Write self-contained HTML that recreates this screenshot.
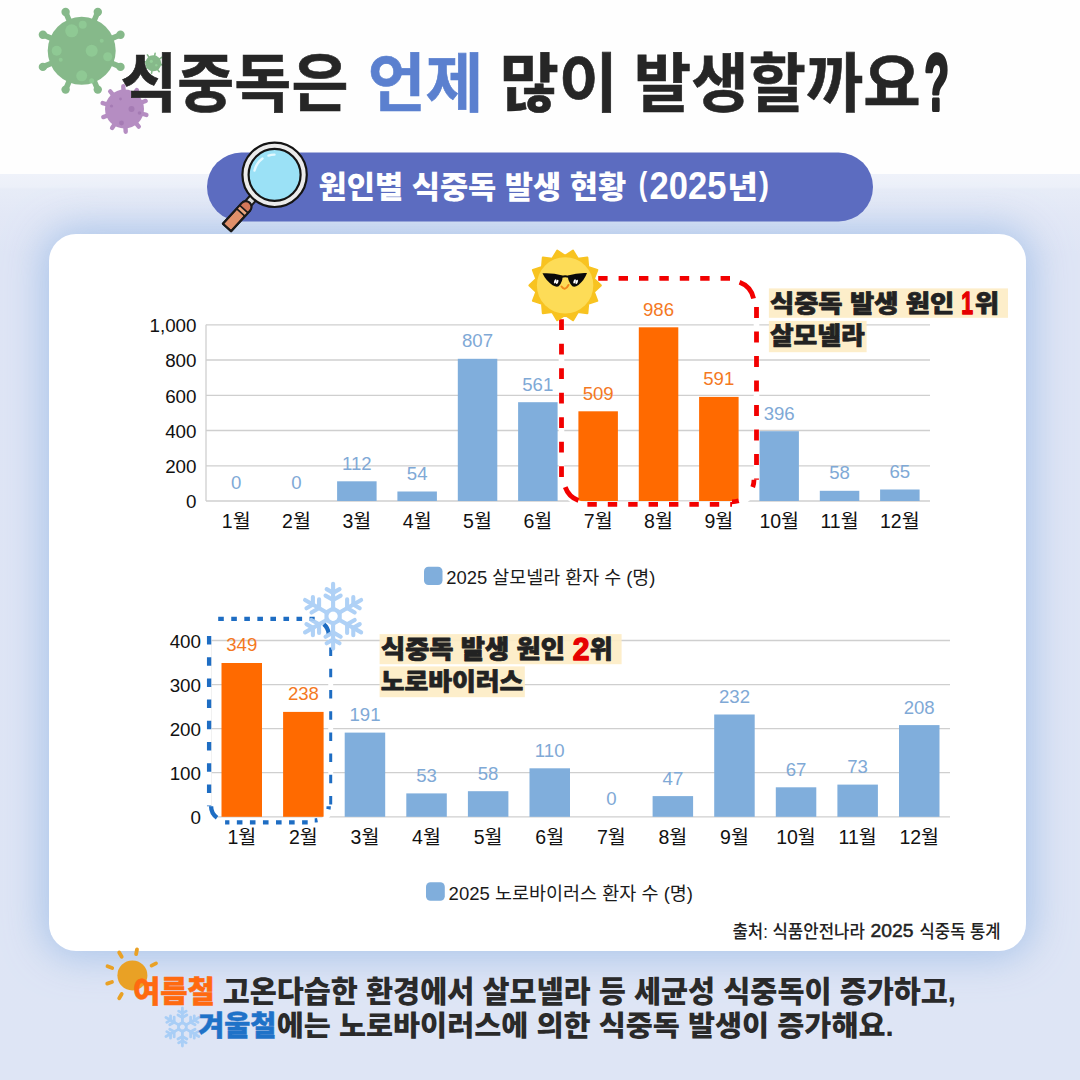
<!DOCTYPE html>
<html lang="ko"><head><meta charset="utf-8"><title>식중독은 언제 많이 발생할까요?</title>
<style>
html,body{margin:0;padding:0;background:#fefefe;}
body{width:1080px;height:1080px;overflow:hidden;position:relative;font-family:"Liberation Sans", "Noto Sans CJK KR", sans-serif;}
#bg{position:absolute;left:0;top:174px;width:1080px;height:906px;
 background:linear-gradient(180deg,#eff2fa 0px,#ecf0f9 13px,#e7ecf7 15px,#e3e8f6 40px,#dfe5f5 80px,#dee5f5 100%);}
#card{position:absolute;left:49px;top:234px;width:977px;height:717px;border-radius:27px;background:#fff;
 box-shadow:0 0 38px 6px rgba(152,186,230,0.75);}
svg{position:absolute;left:0;top:0;}
text{font-family:"Liberation Sans", "Noto Sans CJK KR", sans-serif;}
.hv{font-weight:900;}
.bd{font-weight:700;}
.md{font-weight:500;}
.rg{font-weight:400;}
</style></head><body>
<div id="bg"></div>
<div id="card"></div>
<svg width="1080" height="1080" viewBox="0 0 1080 1080">
<g fill="#86b98a" stroke="none"><line x1="111.3" y1="63.0" x2="120.5" y2="66.9" stroke="#86b98a" stroke-width="5.5" stroke-linecap="round"/><circle cx="120.5" cy="66.9" r="4.2"/><line x1="93.9" y1="80.4" x2="97.8" y2="89.6" stroke="#86b98a" stroke-width="5.5" stroke-linecap="round"/><circle cx="97.8" cy="89.6" r="4.2"/><line x1="69.5" y1="80.4" x2="65.6" y2="89.6" stroke="#86b98a" stroke-width="5.5" stroke-linecap="round"/><circle cx="65.6" cy="89.6" r="4.2"/><line x1="52.1" y1="63.0" x2="42.9" y2="66.9" stroke="#86b98a" stroke-width="5.5" stroke-linecap="round"/><circle cx="42.9" cy="66.9" r="4.2"/><line x1="52.1" y1="38.6" x2="42.9" y2="34.7" stroke="#86b98a" stroke-width="5.5" stroke-linecap="round"/><circle cx="42.9" cy="34.7" r="4.2"/><line x1="69.5" y1="21.2" x2="65.6" y2="12.0" stroke="#86b98a" stroke-width="5.5" stroke-linecap="round"/><circle cx="65.6" cy="12.0" r="4.2"/><line x1="93.9" y1="21.2" x2="97.8" y2="12.0" stroke="#86b98a" stroke-width="5.5" stroke-linecap="round"/><circle cx="97.8" cy="12.0" r="4.2"/><line x1="111.3" y1="38.6" x2="120.5" y2="34.7" stroke="#86b98a" stroke-width="5.5" stroke-linecap="round"/><circle cx="120.5" cy="34.7" r="4.2"/><circle cx="81.7" cy="50.8" r="34"/><circle cx="71.7" cy="30.8" r="6.5" fill="#8fc994"/><circle cx="82.7" cy="24.8" r="4" fill="#8fc994"/><circle cx="91.7" cy="50.8" r="6" fill="#8fc994"/><circle cx="56.7" cy="50.8" r="5" fill="#8fc994"/><circle cx="81.7" cy="75.8" r="5.5" fill="#8fc994"/><circle cx="107.7" cy="56.8" r="4.5" fill="#8fc994"/><circle cx="101.7" cy="40.8" r="2" fill="#8fc994"/><circle cx="60.7" cy="59.8" r="2" fill="#8fc994"/><circle cx="91.7" cy="80.8" r="2.5" fill="#8fc994"/></g>
<g fill="#86b98a" stroke="none"><line x1="159.2" y1="64.3" x2="163.3" y2="65.1" stroke="#86b98a" stroke-width="1.6" stroke-linecap="round"/><line x1="156.7" y1="68.2" x2="159.2" y2="71.7" stroke="#86b98a" stroke-width="1.6" stroke-linecap="round"/><line x1="152.3" y1="69.2" x2="151.5" y2="73.3" stroke="#86b98a" stroke-width="1.6" stroke-linecap="round"/><line x1="148.4" y1="66.7" x2="144.9" y2="69.2" stroke="#86b98a" stroke-width="1.6" stroke-linecap="round"/><line x1="147.4" y1="62.3" x2="143.3" y2="61.5" stroke="#86b98a" stroke-width="1.6" stroke-linecap="round"/><line x1="149.9" y1="58.4" x2="147.4" y2="54.9" stroke="#86b98a" stroke-width="1.6" stroke-linecap="round"/><line x1="154.3" y1="57.4" x2="155.1" y2="53.3" stroke="#86b98a" stroke-width="1.6" stroke-linecap="round"/><line x1="158.2" y1="59.9" x2="161.7" y2="57.4" stroke="#86b98a" stroke-width="1.6" stroke-linecap="round"/><circle cx="153.3" cy="63.3" r="8"/><circle cx="151.3" cy="61.3" r="1.6" fill="#93cf97"/><circle cx="156.3" cy="65.3" r="1.2" fill="#93cf97"/></g>
<g fill="#b58dc2" stroke="none"><line x1="141.4" y1="113.5" x2="146.4" y2="114.9" stroke="#b58dc2" stroke-width="4.4" stroke-linecap="round"/><line x1="135.5" y1="122.6" x2="138.8" y2="126.6" stroke="#b58dc2" stroke-width="4.4" stroke-linecap="round"/><line x1="125.4" y1="126.5" x2="125.7" y2="131.7" stroke="#b58dc2" stroke-width="4.4" stroke-linecap="round"/><line x1="115.0" y1="123.7" x2="112.1" y2="128.0" stroke="#b58dc2" stroke-width="4.4" stroke-linecap="round"/><line x1="108.2" y1="115.3" x2="103.3" y2="117.1" stroke="#b58dc2" stroke-width="4.4" stroke-linecap="round"/><line x1="107.6" y1="104.5" x2="102.6" y2="103.1" stroke="#b58dc2" stroke-width="4.4" stroke-linecap="round"/><line x1="113.5" y1="95.4" x2="110.2" y2="91.4" stroke="#b58dc2" stroke-width="4.4" stroke-linecap="round"/><line x1="123.6" y1="91.5" x2="123.3" y2="86.3" stroke="#b58dc2" stroke-width="4.4" stroke-linecap="round"/><line x1="134.0" y1="94.3" x2="136.9" y2="90.0" stroke="#b58dc2" stroke-width="4.4" stroke-linecap="round"/><line x1="140.8" y1="102.7" x2="145.7" y2="100.9" stroke="#b58dc2" stroke-width="4.4" stroke-linecap="round"/><circle cx="124.5" cy="109" r="19.5"/><circle cx="131.5" cy="109.0" r="3" fill="#a57bb4"/><circle cx="121.5" cy="123.0" r="2.4" fill="#a57bb4"/><circle cx="111.5" cy="106.0" r="1.6" fill="#a57bb4"/><circle cx="139.5" cy="113.0" r="1.8" fill="#a57bb4"/><circle cx="120.5" cy="99.0" r="1.4" fill="#a57bb4"/></g>
<text id="w1" class="bd" font-size="64" fill="#262626" stroke="#262626" stroke-width="0.6" transform="translate(120.35,106.32) scale(0.9685,0.9967)">식중독은</text>
<text id="w2" class="bd" font-size="64" fill="#5b80cf" stroke="#5b80cf" stroke-width="0.6" transform="translate(367.75,106.32) scale(0.9819,0.9967)">언제</text>
<text id="w3" class="bd" font-size="64" fill="#262626" stroke="#262626" stroke-width="0.6" transform="translate(499.63,106.32) scale(1.0047,0.9967)">많이</text>
<text id="w4" class="bd" font-size="64" fill="#262626" stroke="#262626" stroke-width="0.6" transform="translate(633.78,106.32) scale(0.9749,0.9967)">발생할까요</text>
<text id="w5" class="hv" font-size="64" fill="#262626" stroke="#262626" stroke-width="3.2" stroke-linejoin="round" transform="translate(924.42,110.33) scale(0.6241,1.2504)">?</text>
<rect x="207" y="152.5" width="666" height="69" rx="34.5" fill="#5c6cc0"/>
<text id="p1" class="hv" font-size="31" fill="#fff"  transform="translate(318.56,198.33) scale(0.9893,0.9883)">원인별 식중독 발생 현황</text>
<text id="p2a" class="hv" font-size="31" fill="#fff"  transform="translate(638.66,194.73) scale(0.8242,1.0880)">(</text>
<text id="p2b" class="hv" font-size="31" fill="#fff"  transform="translate(649.58,199.28) scale(1.1149,1.2644)">2025</text>
<text id="p2c" class="hv" font-size="31" fill="#fff"  transform="translate(727.24,198.33) scale(1.0766,0.9883)">년</text>
<text id="p2d" class="hv" font-size="31" fill="#fff"  transform="translate(759.00,194.73) scale(0.9714,1.0880)">)</text>
<g id="mag">
<line x1="255.5" y1="195.3" x2="247.5" y2="204.3" stroke="#1a1a1a" stroke-width="9.6" stroke-linecap="butt"/>
<line x1="255.5" y1="195.3" x2="247.5" y2="204.3" stroke="#dcdcdc" stroke-width="5.6"/>
<g transform="translate(249.6,202.8) rotate(42.5)">
<path d="M-5.6,5.6 A5.6,5.6 0 0 1 5.6,5.6 V33.5 H-5.6 Z" fill="#e0906a" stroke="#1a1a1a" stroke-width="2" stroke-linejoin="round"/>
<path d="M-5.6,5.6 A5.6,5.6 0 0 1 5.6,5.6 V8.5 H-5.6 Z" fill="#d4785a"/>
<rect x="-5.6" y="8.5" width="11.2" height="4.6" fill="#eaa57d"/>
<path d="M-5.6,8.5 H5.6 M-5.6,13.1 H5.6" stroke="#1a1a1a" stroke-width="1.7" fill="none"/>
<path d="M-5.6,5.6 A5.6,5.6 0 0 1 5.6,5.6 V33.5 H-5.6 Z" fill="none" stroke="#1a1a1a" stroke-width="2" stroke-linejoin="round"/>
</g>
<circle cx="274.6" cy="174.8" r="32.2" fill="#ebebeb" stroke="#141414" stroke-width="2.2"/>
<circle cx="274.6" cy="174.8" r="26" fill="#9be1f6" stroke="#141414" stroke-width="2.2"/>
<path d="M254.5 170.5 A21 21 0 0 1 262.5 158.5" stroke="#e4f9ff" stroke-width="2.4" fill="none" stroke-linecap="round"/>
<path d="M268.5 155.6 A21 21 0 0 1 274.5 154.6" stroke="#e4f9ff" stroke-width="2.4" fill="none" stroke-linecap="round"/>
</g>
<g id="chart1">
<line x1="206" y1="501.0" x2="930" y2="501.0" stroke="#cfcfcf" stroke-width="1.3"/>
<line x1="206" y1="465.8" x2="930" y2="465.8" stroke="#cfcfcf" stroke-width="1.3"/>
<line x1="206" y1="430.5" x2="930" y2="430.5" stroke="#cfcfcf" stroke-width="1.3"/>
<line x1="206" y1="395.3" x2="930" y2="395.3" stroke="#cfcfcf" stroke-width="1.3"/>
<line x1="206" y1="360.0" x2="930" y2="360.0" stroke="#cfcfcf" stroke-width="1.3"/>
<line x1="206" y1="324.8" x2="930" y2="324.8" stroke="#cfcfcf" stroke-width="1.3"/>
<line x1="206" y1="324.8" x2="206" y2="501.0" stroke="#cfcfcf" stroke-width="1.3"/>
<text x="196.5" y="508.2" font-size="18.8" fill="#111" text-anchor="end">0</text>
<text x="196.5" y="473.0" font-size="18.8" fill="#111" text-anchor="end">200</text>
<text x="196.5" y="437.7" font-size="18.8" fill="#111" text-anchor="end">400</text>
<text x="196.5" y="402.5" font-size="18.8" fill="#111" text-anchor="end">600</text>
<text x="196.5" y="367.2" font-size="18.8" fill="#111" text-anchor="end">800</text>
<text x="196.5" y="332.0" font-size="18.8" fill="#111" text-anchor="end">1,000</text>
<text x="236.2" y="489.4" font-size="18.6" fill="#7fa9d6" text-anchor="middle">0</text>
<text x="236.2" y="528" font-size="19.5" fill="#111" text-anchor="middle">1월</text>
<text x="296.5" y="489.4" font-size="18.6" fill="#7fa9d6" text-anchor="middle">0</text>
<text x="296.5" y="528" font-size="19.5" fill="#111" text-anchor="middle">2월</text>
<rect x="337.1" y="481.3" width="39.5" height="19.7" fill="#80aedc"/>
<text x="356.8" y="469.7" font-size="18.6" fill="#7fa9d6" text-anchor="middle">112</text>
<text x="356.8" y="528" font-size="19.5" fill="#111" text-anchor="middle">3월</text>
<rect x="397.4" y="491.5" width="39.5" height="9.5" fill="#80aedc"/>
<text x="417.2" y="479.9" font-size="18.6" fill="#7fa9d6" text-anchor="middle">54</text>
<text x="417.2" y="528" font-size="19.5" fill="#111" text-anchor="middle">4월</text>
<rect x="457.8" y="358.8" width="39.5" height="142.2" fill="#80aedc"/>
<text x="477.5" y="347.2" font-size="18.6" fill="#7fa9d6" text-anchor="middle">807</text>
<text x="477.5" y="528" font-size="19.5" fill="#111" text-anchor="middle">5월</text>
<rect x="518.1" y="402.2" width="39.5" height="98.8" fill="#80aedc"/>
<text x="537.8" y="390.6" font-size="18.6" fill="#7fa9d6" text-anchor="middle">561</text>
<text x="537.8" y="528" font-size="19.5" fill="#111" text-anchor="middle">6월</text>
<rect x="578.4" y="411.3" width="39.5" height="89.7" fill="#ff6a00"/>
<text x="598.2" y="399.7" font-size="18.6" fill="#f4791f" text-anchor="middle">509</text>
<text x="598.2" y="528" font-size="19.5" fill="#111" text-anchor="middle">7월</text>
<rect x="638.8" y="327.3" width="39.5" height="173.7" fill="#ff6a00"/>
<text x="658.5" y="315.7" font-size="18.6" fill="#f4791f" text-anchor="middle">986</text>
<text x="658.5" y="528" font-size="19.5" fill="#111" text-anchor="middle">8월</text>
<rect x="699.1" y="396.9" width="39.5" height="104.1" fill="#ff6a00"/>
<text x="718.8" y="385.3" font-size="18.6" fill="#f4791f" text-anchor="middle">591</text>
<text x="718.8" y="528" font-size="19.5" fill="#111" text-anchor="middle">9월</text>
<rect x="759.4" y="431.2" width="39.5" height="69.8" fill="#80aedc"/>
<text x="779.2" y="419.6" font-size="18.6" fill="#7fa9d6" text-anchor="middle">396</text>
<text x="779.2" y="528" font-size="19.5" fill="#111" text-anchor="middle">10월</text>
<rect x="819.8" y="490.8" width="39.5" height="10.2" fill="#80aedc"/>
<text x="839.5" y="479.2" font-size="18.6" fill="#7fa9d6" text-anchor="middle">58</text>
<text x="839.5" y="528" font-size="19.5" fill="#111" text-anchor="middle">11월</text>
<rect x="880.1" y="489.5" width="39.5" height="11.5" fill="#80aedc"/>
<text x="899.8" y="477.9" font-size="18.6" fill="#7fa9d6" text-anchor="middle">65</text>
<text x="899.8" y="528" font-size="19.5" fill="#111" text-anchor="middle">12월</text>
<rect x="424" y="566.7" width="18.5" height="18.3" rx="4.5" fill="#80aedc"/>
<text id="l1" class="rg" font-size="18.2" fill="#1a1a1a"  transform="translate(446.29,583.50) scale(1.0125,1.0125)">2025 살모넬라 환자 수 (명)</text>
</g>
<g fill="none"><path d="M561.5,278.3 H732.0 A24.5,24.5 0 0 1 756.5,302.8 V479.8 A24.5,24.5 0 0 1 732.0,504.3 H586.0 A24.5,24.5 0 0 1 561.5,479.8 Z" stroke="#fff" stroke-width="5.6"/><path d="M561.5,278.3 H732.0" stroke="#f20000" stroke-width="4.8" stroke-dasharray="9.4 11.0" stroke-dashoffset="4.10"/><path d="M756.5,302.8 V479.8" stroke="#f20000" stroke-width="4.8" stroke-dasharray="10.9 13.6" stroke-dashoffset="20.20"/><path d="M586.0,504.3 H732.0" stroke="#f20000" stroke-width="4.8" stroke-dasharray="9.4 11.0" stroke-dashoffset="19.00"/><path d="M561.5,278.3 V479.8" stroke="#f20000" stroke-width="4.8" stroke-dasharray="10.9 13.6" stroke-dashoffset="8.10"/><path d="M732.0,280.8 A22,22 0 0 1 754.0,302.8" stroke="#f20000" stroke-width="4.8" stroke-dasharray="0 7.7 22.2 60"/><path d="M754.0,479.8 A22,22 0 0 1 732.0,501.8" stroke="#f20000" stroke-width="4.8" stroke-dasharray="7.5 20 7 60"/><path d="M586.0,501.8 A22,22 0 0 1 564.0,479.8" stroke="#f20000" stroke-width="4.8" stroke-dasharray="0 7.7 19.2 60"/></g>
<polygon points="573.0,250.7 577.9,258.9 587.3,257.6 588.1,267.1 597.2,270.0 593.8,278.9 600.7,285.4 593.8,291.9 597.2,300.8 588.1,303.7 587.3,313.2 577.9,311.9 573.0,320.1 565.1,314.8 557.2,320.1 552.3,311.9 542.9,313.2 542.1,303.7 533.0,300.8 536.4,291.9 529.5,285.4 536.4,278.9 533.0,270.0 542.1,267.1 542.9,257.6 552.3,258.9 557.2,250.7 565.1,256.0" fill="#f8c320" stroke="#f8c320" stroke-width="2.2" stroke-linejoin="round"/><circle cx="565.1" cy="285.4" r="28.2" fill="#fddc57"/><path d="M542.5,273.3 Q552.4,272.6 562.6,275.5 Q562.8,282.1 558.7,286.3 Q556.3,287.4 552.6,285.2 Q545.9,280.7 542.5,273.3Z" fill="#0a0a0a"/><path d="M587.0,273.1 Q577.4,272.6 567.8,275.6 Q568.0,282.1 572.4,286.3 Q575.0,287.4 578.5,285.0 Q584.3,280.4 587.0,273.1Z" fill="#0a0a0a"/><path d="M561.7,276.9 Q565.2,275.7 568.6,276.9" stroke="#0a0a0a" stroke-width="2" fill="none"/><ellipse cx="555.2" cy="281.4" rx="1.1" ry="2.2" transform="rotate(20 555.2 281.4)" fill="#fff"/><ellipse cx="557.2" cy="281.9" rx="1.1" ry="2.2" transform="rotate(20 557.2 281.9)" fill="#fff"/><ellipse cx="574.6" cy="281.4" rx="1.1" ry="2.2" transform="rotate(20 574.6 281.4)" fill="#fff"/><ellipse cx="576.7" cy="281.9" rx="1.1" ry="2.2" transform="rotate(20 576.7 281.9)" fill="#fff"/><path d="M561.5,286.5 Q565.2,291.5 568.5,285.0" stroke="#f08a1c" stroke-width="2" fill="none" stroke-linecap="round"/>
<rect x="768.9" y="288.4" width="239.1" height="29.4" fill="#fdecc4" opacity="0.9"/>
<rect x="768.9" y="320.9" width="97.7" height="31.3" fill="#fdecc4" opacity="0.9"/>
<text id="a1" class="hv" font-size="26" fill="#222" stroke="#222" stroke-width="0.8" stroke-linejoin="round" transform="translate(769.89,311.53) scale(1.0140,0.9365)">식중독 발생 원인</text>
<text id="a1n" class="hv" font-size="26" fill="#e60000" stroke="#e60000" stroke-width="1.2" stroke-linejoin="round" transform="translate(961.31,313.64) scale(0.8167,1.2397)">1</text>
<text id="a1w" class="hv" font-size="26" fill="#222" stroke="#222" stroke-width="0.8" stroke-linejoin="round" transform="translate(974.72,311.53) scale(1.0213,0.9365)">위</text>
<text id="a2" class="hv" font-size="26" fill="#222" stroke="#222" stroke-width="0.8" stroke-linejoin="round" transform="translate(769.90,344.02) scale(0.9911,0.9357)">살모넬라</text>
<g id="chart2">
<line x1="211" y1="816.8" x2="950" y2="816.8" stroke="#cfcfcf" stroke-width="1.3"/>
<line x1="211" y1="772.7" x2="950" y2="772.7" stroke="#cfcfcf" stroke-width="1.3"/>
<line x1="211" y1="728.6" x2="950" y2="728.6" stroke="#cfcfcf" stroke-width="1.3"/>
<line x1="211" y1="684.6" x2="950" y2="684.6" stroke="#cfcfcf" stroke-width="1.3"/>
<line x1="211" y1="640.5" x2="950" y2="640.5" stroke="#cfcfcf" stroke-width="1.3"/>
<line x1="211" y1="640.5" x2="211" y2="816.8" stroke="#cfcfcf" stroke-width="1.3"/>
<text x="201" y="824.0" font-size="18.8" fill="#111" text-anchor="end">0</text>
<text x="201" y="779.9" font-size="18.8" fill="#111" text-anchor="end">100</text>
<text x="201" y="735.9" font-size="18.8" fill="#111" text-anchor="end">200</text>
<text x="201" y="691.8" font-size="18.8" fill="#111" text-anchor="end">300</text>
<text x="201" y="647.7" font-size="18.8" fill="#111" text-anchor="end">400</text>
<rect x="221.5" y="663.0" width="40.5" height="153.8" fill="#ff6a00"/>
<text x="241.8" y="651.4" font-size="18.6" fill="#f4791f" text-anchor="middle">349</text>
<text x="241.8" y="843.5" font-size="19.5" fill="#111" text-anchor="middle">1월</text>
<rect x="283.1" y="711.9" width="40.5" height="104.9" fill="#ff6a00"/>
<text x="303.4" y="700.3" font-size="18.6" fill="#f4791f" text-anchor="middle">238</text>
<text x="303.4" y="843.5" font-size="19.5" fill="#111" text-anchor="middle">2월</text>
<rect x="344.7" y="732.6" width="40.5" height="84.2" fill="#80aedc"/>
<text x="365.0" y="721.0" font-size="18.6" fill="#7fa9d6" text-anchor="middle">191</text>
<text x="365.0" y="843.5" font-size="19.5" fill="#111" text-anchor="middle">3월</text>
<rect x="406.3" y="793.4" width="40.5" height="23.4" fill="#80aedc"/>
<text x="426.5" y="781.8" font-size="18.6" fill="#7fa9d6" text-anchor="middle">53</text>
<text x="426.5" y="843.5" font-size="19.5" fill="#111" text-anchor="middle">4월</text>
<rect x="467.9" y="791.2" width="40.5" height="25.6" fill="#80aedc"/>
<text x="488.1" y="779.6" font-size="18.6" fill="#7fa9d6" text-anchor="middle">58</text>
<text x="488.1" y="843.5" font-size="19.5" fill="#111" text-anchor="middle">5월</text>
<rect x="529.5" y="768.3" width="40.5" height="48.5" fill="#80aedc"/>
<text x="549.7" y="756.7" font-size="18.6" fill="#7fa9d6" text-anchor="middle">110</text>
<text x="549.7" y="843.5" font-size="19.5" fill="#111" text-anchor="middle">6월</text>
<text x="611.3" y="805.2" font-size="18.6" fill="#7fa9d6" text-anchor="middle">0</text>
<text x="611.3" y="843.5" font-size="19.5" fill="#111" text-anchor="middle">7월</text>
<rect x="652.6" y="796.1" width="40.5" height="20.7" fill="#80aedc"/>
<text x="672.9" y="784.5" font-size="18.6" fill="#7fa9d6" text-anchor="middle">47</text>
<text x="672.9" y="843.5" font-size="19.5" fill="#111" text-anchor="middle">8월</text>
<rect x="714.2" y="714.5" width="40.5" height="102.3" fill="#80aedc"/>
<text x="734.5" y="702.9" font-size="18.6" fill="#7fa9d6" text-anchor="middle">232</text>
<text x="734.5" y="843.5" font-size="19.5" fill="#111" text-anchor="middle">9월</text>
<rect x="775.8" y="787.3" width="40.5" height="29.5" fill="#80aedc"/>
<text x="796.0" y="775.7" font-size="18.6" fill="#7fa9d6" text-anchor="middle">67</text>
<text x="796.0" y="843.5" font-size="19.5" fill="#111" text-anchor="middle">10월</text>
<rect x="837.4" y="784.6" width="40.5" height="32.2" fill="#80aedc"/>
<text x="857.6" y="773.0" font-size="18.6" fill="#7fa9d6" text-anchor="middle">73</text>
<text x="857.6" y="843.5" font-size="19.5" fill="#111" text-anchor="middle">11월</text>
<rect x="899.0" y="725.1" width="40.5" height="91.7" fill="#80aedc"/>
<text x="919.2" y="713.5" font-size="18.6" fill="#7fa9d6" text-anchor="middle">208</text>
<text x="919.2" y="843.5" font-size="19.5" fill="#111" text-anchor="middle">12월</text>
<rect x="426" y="882.3" width="18.8" height="18.5" rx="4.5" fill="#80aedc"/>
<text id="l2" class="rg" font-size="18.2" fill="#1a1a1a"  transform="translate(448.58,899.50) scale(1.0185,1.0185)">2025 노로바이러스 환자 수 (명)</text>
</g>
<g fill="none"><path d="M225.1,618.8 H314.7 A16,16 0 0 1 330.7,634.8 V806.3 A16,16 0 0 1 314.7,822.3 H225.1 A16,16 0 0 1 209.1,806.3 V634.8 A16,16 0 0 1 225.1,618.8 Z" stroke="#fff" stroke-width="4.9"/><path d="M216.1,618.8 H314.7" stroke="#1e6dc3" stroke-width="4.3" stroke-dasharray="5.6 7.45" stroke-dashoffset="10.95"/><path d="M330.7,634.8 V806.3" stroke="#1e6dc3" stroke-width="3.0" stroke-dasharray="8.5 12.7" stroke-dashoffset="8.40"/><path d="M225.1,822.3 H314.7" stroke="#1e6dc3" stroke-width="4.3" stroke-dasharray="5.6 7.45" stroke-dashoffset="1.30"/><path d="M209.1,634.8 V806.3" stroke="#1e6dc3" stroke-width="4.3" stroke-dasharray="8.5 12.7" stroke-dashoffset="20.00"/><path d="M314.7,620.8 A14,14 0 0 1 328.7,634.8" stroke="#1e6dc3" stroke-width="4.3" stroke-dasharray="0 9.8 11 40"/><path d="M328.7,806.3 A14,14 0 0 1 314.7,820.3" stroke="#1e6dc3" stroke-width="4.3" stroke-dasharray="3 16 3 40"/><path d="M225.1,820.3 A14,14 0 0 1 211.1,806.3" stroke="#1e6dc3" stroke-width="4.3" stroke-dasharray="0 8.6 13.4 40"/></g>
<g transform="translate(333.1,616.2)" stroke="#a9cef6" stroke-width="4.1" stroke-linecap="round" fill="none" opacity="0.93"><g transform="rotate(0)"><line x1="0" y1="-6.48" x2="0" y2="-32.40"/><line x1="0" y1="-16.20" x2="-7.58" y2="-20.57"/><line x1="0" y1="-16.20" x2="7.58" y2="-20.57"/><line x1="0" y1="-23.33" x2="-6.45" y2="-27.05"/><line x1="0" y1="-23.33" x2="6.45" y2="-27.05"/></g><g transform="rotate(60)"><line x1="0" y1="-6.48" x2="0" y2="-32.40"/><line x1="0" y1="-16.20" x2="-7.58" y2="-20.57"/><line x1="0" y1="-16.20" x2="7.58" y2="-20.57"/><line x1="0" y1="-23.33" x2="-6.45" y2="-27.05"/><line x1="0" y1="-23.33" x2="6.45" y2="-27.05"/></g><g transform="rotate(120)"><line x1="0" y1="-6.48" x2="0" y2="-32.40"/><line x1="0" y1="-16.20" x2="-7.58" y2="-20.57"/><line x1="0" y1="-16.20" x2="7.58" y2="-20.57"/><line x1="0" y1="-23.33" x2="-6.45" y2="-27.05"/><line x1="0" y1="-23.33" x2="6.45" y2="-27.05"/></g><g transform="rotate(180)"><line x1="0" y1="-6.48" x2="0" y2="-32.40"/><line x1="0" y1="-16.20" x2="-7.58" y2="-20.57"/><line x1="0" y1="-16.20" x2="7.58" y2="-20.57"/><line x1="0" y1="-23.33" x2="-6.45" y2="-27.05"/><line x1="0" y1="-23.33" x2="6.45" y2="-27.05"/></g><g transform="rotate(240)"><line x1="0" y1="-6.48" x2="0" y2="-32.40"/><line x1="0" y1="-16.20" x2="-7.58" y2="-20.57"/><line x1="0" y1="-16.20" x2="7.58" y2="-20.57"/><line x1="0" y1="-23.33" x2="-6.45" y2="-27.05"/><line x1="0" y1="-23.33" x2="6.45" y2="-27.05"/></g><g transform="rotate(300)"><line x1="0" y1="-6.48" x2="0" y2="-32.40"/><line x1="0" y1="-16.20" x2="-7.58" y2="-20.57"/><line x1="0" y1="-16.20" x2="7.58" y2="-20.57"/><line x1="0" y1="-23.33" x2="-6.45" y2="-27.05"/><line x1="0" y1="-23.33" x2="6.45" y2="-27.05"/></g><polygon points="6.59,3.81 0.00,7.61 -6.59,3.81 -6.59,-3.81 -0.00,-7.61 6.59,-3.81" stroke-linejoin="round"/></g>
<rect x="379.6" y="634.1" width="242" height="30.1" fill="#fdecc4" opacity="0.9"/>
<rect x="379.6" y="666.4" width="145.2" height="30.8" fill="#fdecc4" opacity="0.9"/>
<text id="b1" class="hv" font-size="26" fill="#222" stroke="#222" stroke-width="0.8" stroke-linejoin="round" transform="translate(380.94,657.74) scale(1.0126,0.9478)">식중독 발생 원인</text>
<text id="b1n" class="hv" font-size="26" fill="#e60000" stroke="#e60000" stroke-width="1.2" stroke-linejoin="round" transform="translate(572.87,659.65) scale(1.1545,1.2266)">2</text>
<text id="b1w" class="hv" font-size="26" fill="#222" stroke="#222" stroke-width="0.8" stroke-linejoin="round" transform="translate(589.73,657.74) scale(0.9576,0.9478)">위</text>
<text id="b2" class="hv" font-size="26" fill="#222" stroke="#222" stroke-width="0.8" stroke-linejoin="round" transform="translate(380.70,690.06) scale(0.9940,0.9240)">노로바이러스</text>
<text id="s1a" class="md" font-size="17.2" fill="#222"  transform="translate(732.42,937.77) scale(0.9726,1.0540)">출처: 식품안전나라</text>
<text id="s1b" class="md" font-size="17.2" fill="#222" stroke="#222" stroke-width="0.45" transform="translate(870.61,937.39) scale(1.1230,1.0562)">2025</text>
<text id="s1c" class="md" font-size="17.2" fill="#222"  transform="translate(919.58,937.77) scale(0.9668,1.0540)">식중독 통계</text>
<g id="sun2">
<circle cx="132.4" cy="975.4" r="15" fill="#e9a125"/>
<line x1="136.1" y1="954.2" x2="137.0" y2="949.3" stroke="#e9a125" stroke-width="3.8" stroke-linecap="round"/>
<line x1="121.7" y1="956.8" x2="119.2" y2="952.5" stroke="#e9a125" stroke-width="3.8" stroke-linecap="round"/>
<line x1="112.2" y1="968.0" x2="107.5" y2="966.3" stroke="#e9a125" stroke-width="3.8" stroke-linecap="round"/>
<line x1="112.0" y1="982.0" x2="107.2" y2="983.6" stroke="#e9a125" stroke-width="3.8" stroke-linecap="round"/>
<line x1="121.7" y1="994.0" x2="119.2" y2="998.3" stroke="#e9a125" stroke-width="3.8" stroke-linecap="round"/>
<line x1="151.6" y1="965.6" x2="156.0" y2="963.4" stroke="#e9a125" stroke-width="3.8" stroke-linecap="round"/>
</g>
<g transform="translate(182.4,1027)" stroke="#a9cef6" stroke-width="2.8" stroke-linecap="round" fill="none" opacity="1"><g transform="rotate(0)"><line x1="0" y1="-3.80" x2="0" y2="-19.00"/><line x1="0" y1="-9.50" x2="-4.44" y2="-12.07"/><line x1="0" y1="-9.50" x2="4.44" y2="-12.07"/><line x1="0" y1="-13.68" x2="-3.78" y2="-15.87"/><line x1="0" y1="-13.68" x2="3.78" y2="-15.87"/></g><g transform="rotate(60)"><line x1="0" y1="-3.80" x2="0" y2="-19.00"/><line x1="0" y1="-9.50" x2="-4.44" y2="-12.07"/><line x1="0" y1="-9.50" x2="4.44" y2="-12.07"/><line x1="0" y1="-13.68" x2="-3.78" y2="-15.87"/><line x1="0" y1="-13.68" x2="3.78" y2="-15.87"/></g><g transform="rotate(120)"><line x1="0" y1="-3.80" x2="0" y2="-19.00"/><line x1="0" y1="-9.50" x2="-4.44" y2="-12.07"/><line x1="0" y1="-9.50" x2="4.44" y2="-12.07"/><line x1="0" y1="-13.68" x2="-3.78" y2="-15.87"/><line x1="0" y1="-13.68" x2="3.78" y2="-15.87"/></g><g transform="rotate(180)"><line x1="0" y1="-3.80" x2="0" y2="-19.00"/><line x1="0" y1="-9.50" x2="-4.44" y2="-12.07"/><line x1="0" y1="-9.50" x2="4.44" y2="-12.07"/><line x1="0" y1="-13.68" x2="-3.78" y2="-15.87"/><line x1="0" y1="-13.68" x2="3.78" y2="-15.87"/></g><g transform="rotate(240)"><line x1="0" y1="-3.80" x2="0" y2="-19.00"/><line x1="0" y1="-9.50" x2="-4.44" y2="-12.07"/><line x1="0" y1="-9.50" x2="4.44" y2="-12.07"/><line x1="0" y1="-13.68" x2="-3.78" y2="-15.87"/><line x1="0" y1="-13.68" x2="3.78" y2="-15.87"/></g><g transform="rotate(300)"><line x1="0" y1="-3.80" x2="0" y2="-19.00"/><line x1="0" y1="-9.50" x2="-4.44" y2="-12.07"/><line x1="0" y1="-9.50" x2="4.44" y2="-12.07"/><line x1="0" y1="-13.68" x2="-3.78" y2="-15.87"/><line x1="0" y1="-13.68" x2="3.78" y2="-15.87"/></g><polygon points="3.87,2.23 0.00,4.46 -3.87,2.23 -3.87,-2.23 -0.00,-4.46 3.87,-2.23" stroke-linejoin="round"/></g>
<text id="c1" class="hv" font-size="29" fill="#ff6a10" stroke="#ff6a10" stroke-width="0.5" stroke-linejoin="round" transform="translate(133.00,1001.56) scale(1.0226,1.0220)">여름철</text>
<text id="c1r" class="hv" font-size="29" fill="#2a2a2a"  transform="translate(222.63,1001.56) scale(1.0141,1.0220)">고온다습한 환경에서 살모넬라 등 세균성 식중독이 증가하고,</text>
<text id="c2" class="hv" font-size="29" fill="#1f72c8" stroke="#1f72c8" stroke-width="0.5" stroke-linejoin="round" transform="translate(198.15,1035.73) scale(0.9771,0.9865)">겨울철</text>
<text id="c2r" class="hv" font-size="29" fill="#2a2a2a"  transform="translate(276.68,1035.73) scale(1.0142,0.9865)">에는 노로바이러스에 의한 식중독 발생이 증가해요.</text>
</svg></body></html>
